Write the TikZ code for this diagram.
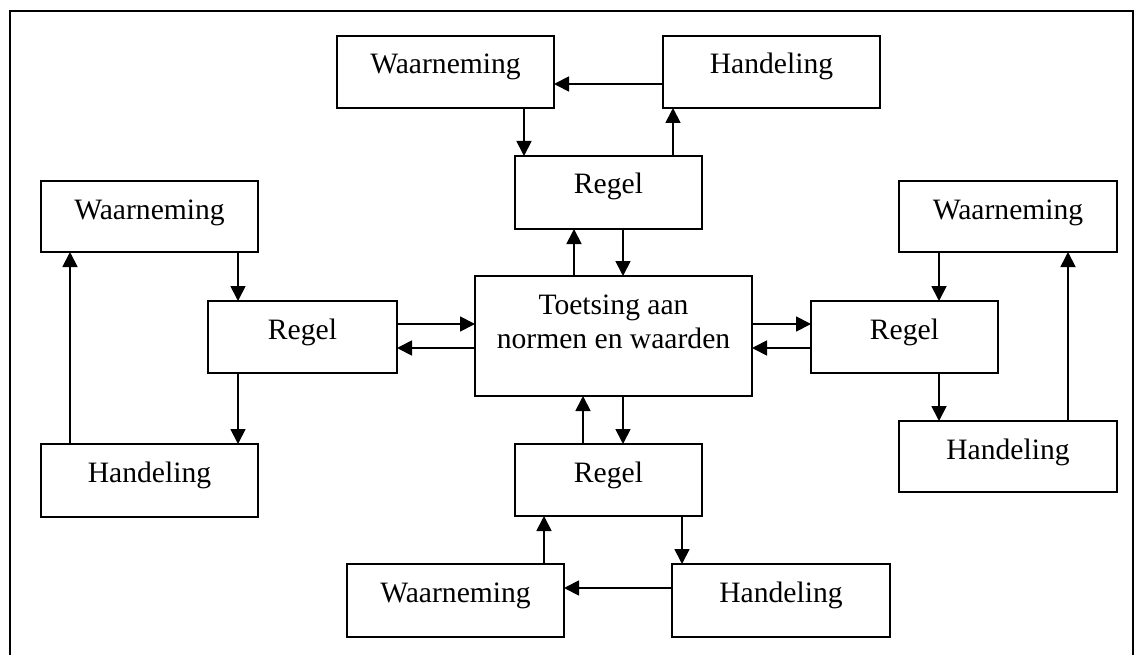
\documentclass[tikz,border=0pt]{standalone}
\usepackage{fontspec}
\setmainfont{Liberation Serif}
\usetikzlibrary{arrows.meta}
\tikzset{
  box/.style={draw, rectangle, line width=1.8pt, inner sep=0pt, outer sep=0pt},
  lbl/.style={anchor=base, inner sep=0pt, font=\fontsize{29.6}{34}\selectfont},
  arr/.style={line width=1.8pt, -{Triangle[length=15pt,width=15pt]}},
  frame/.style={line width=1.8pt}
}
\newcommand\mybox[6]{%
  \node[box, minimum width={(#4-#2)*1pt}, minimum height={(#5-#3)*1pt}] (#1) at ({(#2+#4)/2},{(#3+#5)/2}) {};
  \node[lbl] (#1t) at ({(#2+#4)/2},{#3+38}) {#6};}
\begin{document}
\begin{tikzpicture}[x=1pt,y=-1pt]
\useasboundingbox (0,0) rectangle (1135,655);
\draw[frame] (10,670) -- (10,11) -- (1133,11) -- (1133,670);
% top
\mybox{tw}{337}{36}{554}{108}{Waarneming}
\mybox{th}{663}{36}{880}{108}{Handeling}
\mybox{tr}{515}{156}{702}{229}{Regel}
% center
\node[box, minimum width=277pt, minimum height=120pt] (c) at (613.5,336) {};
\node[lbl] (ct1) at (613.5,314) {Toetsing aan};
\node[lbl] (ct2) at (613.5,348) {normen en waarden};
% left
\mybox{lw}{41}{181}{258}{252}{Waarneming}
\mybox{lr}{208}{301}{397}{373}{Regel}
\mybox{lh}{41}{444}{258}{517}{Handeling}
% right
\mybox{rw}{899}{181}{1117}{252}{Waarneming}
\mybox{rr}{811}{301}{998}{373}{Regel}
\mybox{rh}{899}{421}{1117}{492}{Handeling}
% bottom
\mybox{br}{515}{444}{702}{516}{Regel}
\mybox{bw}{347}{564}{564}{637}{Waarneming}
\mybox{bh}{672}{564}{890}{637}{Handeling}
% top arrows
\draw[arr] (th.west |- 0,84) -- (tw.east |- 0,84);
\draw[arr] (tw.south -| 524,0) -- (tr.north -| 524,0);
\draw[arr] (tr.north -| 673,0) -- (th.south -| 673,0);
\draw[arr] (c.north -| 574,0) -- (tr.south -| 574,0);
\draw[arr] (tr.south -| 623,0) -- (c.north -| 623,0);
% side arrows
\draw[arr] (lr.east |- 0,324) -- (c.west |- 0,324);
\draw[arr] (c.west |- 0,348) -- (lr.east |- 0,348);
\draw[arr] (c.east |- 0,324) -- (rr.west |- 0,324);
\draw[arr] (rr.west |- 0,348) -- (c.east |- 0,348);
% bottom arrows
\draw[arr] (br.north -| 583,0) -- (c.south -| 583,0);
\draw[arr] (c.south -| 623,0) -- (br.north -| 623,0);
\draw[arr] (bw.north -| 544,0) -- (br.south -| 544,0);
\draw[arr] (br.south -| 682,0) -- (bh.north -| 682,0);
\draw[arr] (bh.west |- 0,588) -- (bw.east |- 0,588);
% left loop
\draw[arr] (lw.south -| 238,0) -- (lr.north -| 238,0);
\draw[arr] (lr.south -| 238,0) -- (lh.north -| 238,0);
\draw[arr] (lh.north -| 70,0) -- (lw.south -| 70,0);
% right loop
\draw[arr] (rw.south -| 939,0) -- (rr.north -| 939,0);
\draw[arr] (rr.south -| 939,0) -- (rh.north -| 939,0);
\draw[arr] (rh.north -| 1068,0) -- (rw.south -| 1068,0);
\end{tikzpicture}
\end{document}
